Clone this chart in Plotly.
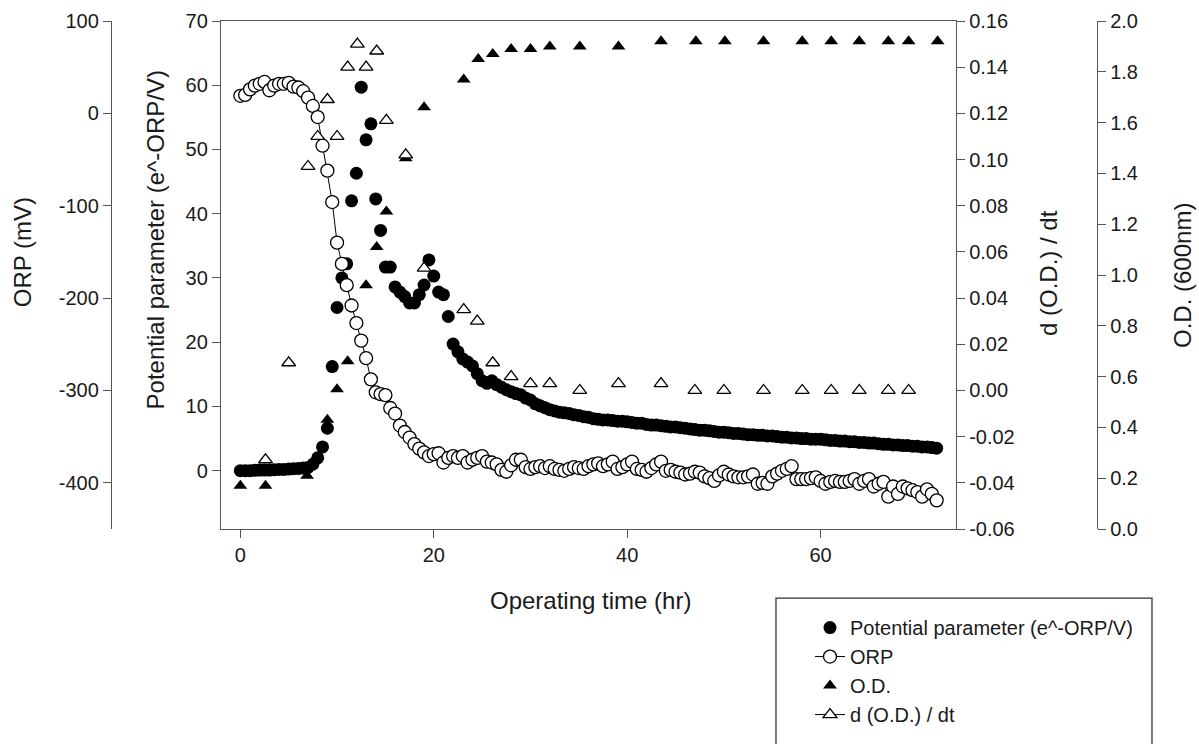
import plotly.graph_objects as go

# ---------------- data ----------------
time_hr = [0, 0.5, 1, 1.5, 2, 2.5, 3, 3.5, 4, 4.5, 5, 5.5, 6, 6.5, 7, 7.5,
           8, 8.5, 9, 9.5, 10, 10.5, 11, 11.5, 12, 12.5, 13, 13.5, 14, 14.5,
           15, 15.5, 16, 16.5, 17, 17.5, 18, 18.5, 19, 19.5,
           20, 20.5, 21, 21.5, 22, 22.5, 23, 23.5, 24, 24.5, 25, 25.5, 26, 26.5, 27, 27.5, 28, 28.5, 29, 29.5,
           30, 30.5, 31, 31.5, 32, 32.5, 33, 33.5, 34, 34.5, 35, 35.5, 36, 36.5, 37, 37.5, 38, 38.5, 39, 39.5,
           40, 40.5, 41, 41.5, 42, 42.5, 43, 43.5, 44, 44.5, 45, 45.5, 46, 46.5, 47, 47.5, 48, 48.5, 49, 49.5,
           50, 50.5, 51, 51.5, 52, 52.5, 53, 53.5, 54, 54.5, 55, 55.5, 56, 56.5, 57, 57.5, 58, 58.5, 59, 59.5,
           60, 60.5, 61, 61.5, 62, 62.5, 63, 63.5, 64, 64.5, 65, 65.5, 66, 66.5, 67, 67.5, 68, 68.5, 69, 69.5,
           70, 70.5, 71, 71.5, 72]

orp_mv = [19, 20, 26, 30, 32, 34, 25, 30, 32, 32, 33, 29, 28, 24, 17, 8,
          -4, -35, -62, -96, -140, -163, -186, -208, -227, -246, -265, -288, -302, -304,
          -305, -319, -325, -338, -345, -351, -358, -363, -367, -371,
          -369, -368, -378, -373, -371, -373, -371, -378, -375, -373, -371, -377, -378, -380, -386, -388, -381, -375, -375, -383,
          -385, -383, -382, -384, -382, -385, -386, -387, -385, -383, -384, -385, -382, -380, -379, -382, -380, -377, -385, -383,
          -380, -377, -385, -386, -388, -384, -380, -377, -387, -386, -388, -389, -391, -390, -388, -389, -393, -395, -398, -392,
          -388, -391, -393, -394, -394, -393, -391, -401, -400, -401, -393, -390, -387, -385, -382, -396, -396, -396, -395, -394,
          -398, -401, -399, -398, -399, -399, -398, -396, -401, -398, -396, -404, -401, -399, -415, -404, -412, -404, -406, -408,
          -410, -415, -407, -412, -419]

potential = [0.0, 0.0, 0.0, 0.05, 0.1, 0.1, 0.1, 0.15, 0.2, 0.2, 0.25, 0.3, 0.35, 0.4, 0.5, 1.0,
             2.0, 3.7, 6.6, 16.2,
             25.4, 30.0, 32.2, 42.0, 46.3, 59.7, 51.5, 54.0, 42.3, 37.4,
             31.7, 31.7, 28.6, 27.8, 27.1, 26.1, 26.1, 27.4, 28.9, 32.8,
             30.3, 27.8, 27.4, 24.0, 19.7, 18.5, 17.4, 16.9, 16.3, 15.1, 14.0, 13.6, 14.0, 13.4,
             13.0, 12.6, 12.3, 12.0, 11.8, 11.3,
             11.0, 10.4, 10.1, 9.8, 9.5, 9.3, 9.1, 9.0, 8.9, 8.7, 8.6, 8.4, 8.3, 8.1, 8.0, 7.9, 7.9, 7.8, 7.7, 7.7,
             7.6, 7.5, 7.4, 7.4, 7.2, 7.1, 7.1, 7.0, 6.9, 6.8, 6.8, 6.7, 6.6, 6.5, 6.4, 6.3, 6.3, 6.2, 6.1, 6.0,
             6.0, 5.9, 5.8, 5.8, 5.7, 5.6, 5.6, 5.5, 5.5, 5.4, 5.4, 5.3, 5.2, 5.2, 5.1, 5.1, 5.0, 5.0, 4.9, 4.9,
             4.9, 4.8, 4.7, 4.7, 4.6, 4.6, 4.5, 4.5, 4.4, 4.4, 4.3, 4.3, 4.2, 4.1, 4.1, 4.0, 4.0, 3.9, 3.9, 3.8,
             3.8, 3.7, 3.7, 3.6, 3.5]

od_time = [0, 2.6, 6.9, 9.0, 10.0, 11.1, 13.0, 14.1, 15.1, 17.1, 19.0, 23.1, 24.6, 26.1, 28.0,
           30.0, 32.0, 35.1, 39.1, 43.5, 47.1, 50.1, 54.1, 58.1, 61.1, 64.0, 67.0, 69.1, 72.1]
od_600 = [0.17, 0.17, 0.21, 0.43, 0.55, 0.66, 0.96, 1.11, 1.25, 1.46, 1.66, 1.77, 1.85, 1.87, 1.89,
          1.89, 1.90, 1.90, 1.90, 1.92, 1.92, 1.92, 1.92, 1.92, 1.92, 1.92, 1.92, 1.92, 1.92]

dod_time = [2.6, 5.0, 7.0, 8.0, 9.0, 10.0, 11.1, 12.1, 13.0, 14.1, 15.1, 17.1, 19.0, 23.1, 24.5,
            26.1, 28.0, 30.0, 32.0, 35.1, 39.1, 43.5, 47.0, 50.0, 54.1, 58.1, 61.1, 64.0, 67.0, 69.1]
dod_dt = [-0.030, 0.012, 0.097, 0.110, 0.126, 0.110, 0.140, 0.150, 0.140, 0.147, 0.117, 0.102, 0.053, 0.035, 0.030,
          0.012, 0.006, 0.003, 0.003, 0.000, 0.003, 0.003, 0.000, 0.000, 0.000, 0.000, 0.000, 0.000, 0.000, 0.000]

x_ticks = [0, 20, 40, 60]
pot_ticks = [0, 10, 20, 30, 40, 50, 60, 70]
orp_ticks = [-400, -300, -200, -100, 0, 100]
dod_ticks = [-0.06, -0.04, -0.02, 0.00, 0.02, 0.04, 0.06, 0.08, 0.10, 0.12, 0.14, 0.16]
od_ticks = [0.0, 0.2, 0.4, 0.6, 0.8, 1.0, 1.2, 1.4, 1.6, 1.8, 2.0]

# ---------------- styling ----------------
FONT = "Liberation Sans, Arial, sans-serif"
TXT = "#1a1a1a"
AX = "#555555"
TICK_SIZE = 20
TITLE_SIZE = 24
W, H = 1199, 744
ML, MR, MT, MB = 10, 10, 18, 212
PW = W - ML - MR
PH = H - MT - MB


def px_x(px):
    return (px - ML) / PW


def px_y(py):
    return (H - MB - py) / PH


def lbl(vals, fmt):
    return [fmt.format(v).replace("\u2212", "-") for v in vals]


fig = go.Figure()

fig.add_trace(go.Scatter(
    x=time_hr, y=potential, mode="markers", name="Potential parameter (e^-ORP/V)",
    marker=dict(symbol="circle", size=13, color="black"), yaxis="y"))

fig.add_trace(go.Scatter(
    x=time_hr, y=orp_mv, mode="lines+markers", name="ORP",
    line=dict(color="black", width=1),
    marker=dict(symbol="circle", size=13, color="white", line=dict(color="black", width=1.3)),
    yaxis="y2"))

fig.add_trace(go.Scatter(
    x=od_time, y=od_600, mode="markers", name="O.D.",
    marker=dict(symbol="triangle-up", size=12, color="black"), yaxis="y3"))

fig.add_trace(go.Scatter(
    x=dod_time, y=dod_dt, mode="markers", name="d (O.D.) / dt", showlegend=False,
    marker=dict(symbol="triangle-up", size=12, color="white", line=dict(color="black", width=1.3)),
    yaxis="y4"))

# legend-only entry (the legend shows a line through the open triangle)
fig.add_trace(go.Scatter(
    x=[None], y=[None], mode="lines+markers", name="d (O.D.) / dt",
    line=dict(color="black", width=1),
    marker=dict(symbol="triangle-up", size=12, color="white", line=dict(color="black", width=1.3)),
    yaxis="y4"))

common = dict(showgrid=False, zeroline=False, showline=True, linecolor=AX, linewidth=1.3,
              ticks="outside", ticklen=8, tickwidth=1.3, tickcolor=AX,
              tickfont=dict(family=FONT, size=TICK_SIZE, color=TXT))

title_font = dict(family=FONT, size=TITLE_SIZE, color=TXT)


def axis_title(text, px, py, angle):
    return dict(text=text, xref="paper", yref="paper", x=px_x(px), y=px_y(py),
                xanchor="center", yanchor="middle", textangle=angle,
                showarrow=False, font=title_font)


fig.update_layout(
    width=W, height=H,
    margin=dict(l=ML, r=MR, t=MT, b=MB),
    paper_bgcolor="white", plot_bgcolor="white",
    font=dict(family=FONT, color=TXT),
    showlegend=True,
    xaxis=dict(domain=[px_x(221), px_x(956)], range=[-2, 74], tickvals=x_ticks,
               ticktext=[str(v) for v in x_ticks], mirror=True, **common),
    yaxis=dict(range=[-9.08, 70], tickvals=pot_ticks, ticktext=[str(v) for v in pot_ticks],
               anchor="x", side="left", **common),
    yaxis2=dict(range=[-450, 100], tickvals=orp_ticks, ticktext=[str(v) for v in orp_ticks],
                overlaying="y", anchor="free", side="left", position=px_x(111), **common),
    yaxis3=dict(range=[0, 2.0], tickvals=od_ticks, ticktext=lbl(od_ticks, "{:.1f}"),
                overlaying="y", anchor="free", side="right", position=px_x(1097), **common),
    yaxis4=dict(range=[-0.06, 0.16], tickvals=dod_ticks, ticktext=lbl(dod_ticks, "{:.2f}"),
                overlaying="y", anchor="x", side="right", **common),
    legend=dict(x=px_x(810), y=px_y(612), xanchor="left", yanchor="top",
                bgcolor="rgba(0,0,0,0)", borderwidth=0,
                font=dict(family=FONT, size=20, color=TXT), traceorder="normal"),
    annotations=[
        axis_title("Operating time (hr)", 590, 604, 0),
        axis_title("Potential parameter (e^-ORP/V)", 155, 240, -90),
        axis_title("ORP (mV)", 22, 252, -90),
        axis_title("d (O.D.) / dt", 1048, 273, -90),
        axis_title("O.D. (600nm)", 1183, 276, -90),
    ],
    shapes=[dict(type="rect", xref="paper", yref="paper",
                 x0=px_x(776), x1=px_x(1152), y0=px_y(770), y1=px_y(602),
                 line=dict(color="#333333", width=1.3), fillcolor="rgba(0,0,0,0)")],
)

fig.write_html("out.html")
